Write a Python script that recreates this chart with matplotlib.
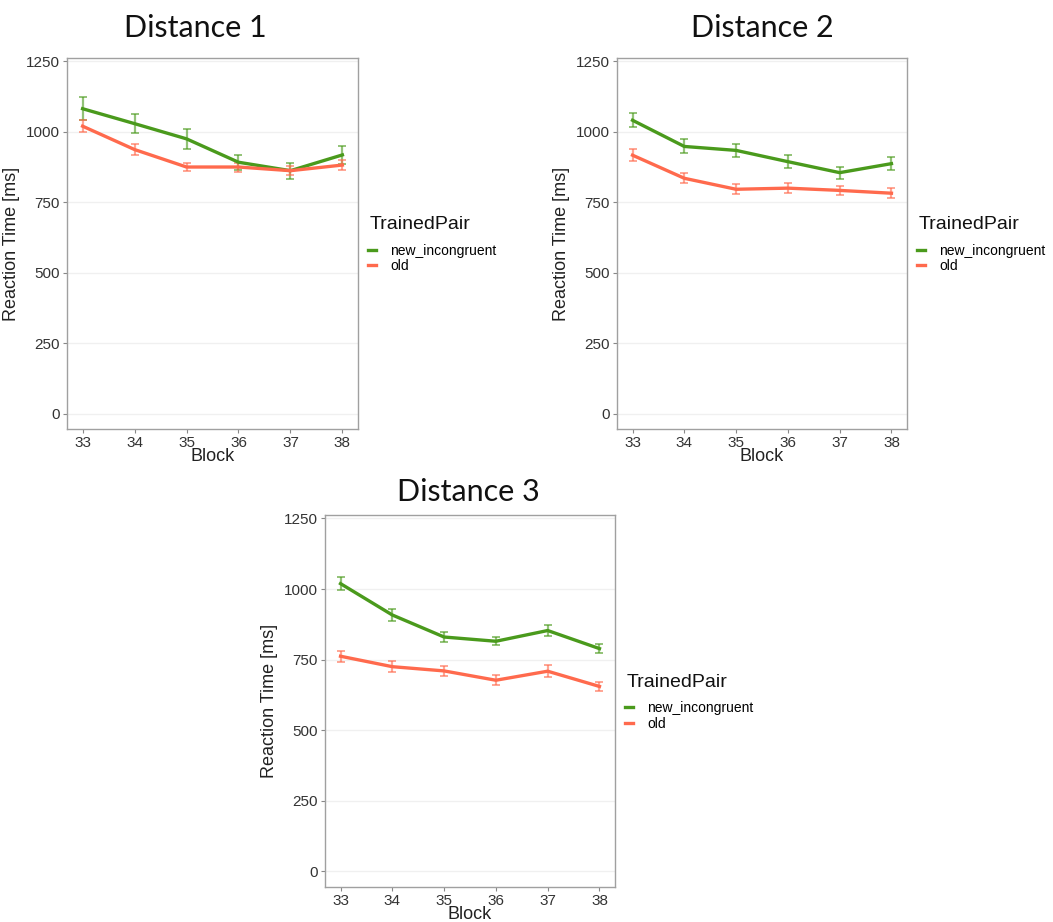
import numpy as np
import matplotlib
matplotlib.use('Agg')
import matplotlib.pyplot as plt

# Blocks and series per distance (mean RT, error half-width)
blocks = [33, 34, 35, 36, 37, 38]
series_names = ['new_incongruent', 'old']

d1_new = [1082, 1029, 975, 892, 862, 918]
d1_new_err = [40, 33, 36, 26, 28, 31]
d1_old = [1020, 937, 875, 875, 862, 882]
d1_old_err = [21, 18, 15, 16, 15, 17]

d2_new = [1041, 948, 934, 894, 855, 887]
d2_new_err = [24, 25, 24, 24, 21, 24]
d2_old = [917, 835, 796, 800, 792, 782]
d2_old_err = [21, 18, 18, 17, 17, 18]

d3_new = [1019, 908, 830, 815, 853, 789]
d3_new_err = [24, 21, 19, 14, 19, 17]
d3_old = [762, 725, 710, 677, 709, 655]
d3_old_err = [19, 19, 19, 18, 21, 17]

titles = ['Distance 1', 'Distance 2', 'Distance 3']
y_ticks = [0, 250, 500, 750, 1000, 1250]

green = '#4a9a1c'
red = '#ff6a4d'

plt.rcParams['font.family'] = ['Liberation Sans', 'DejaVu Sans']

W, H = 1053, 922
fig = plt.figure(figsize=(W / 100, H / 100), dpi=100)

# axes boxes in pixels: left, top, right, bottom
boxes = [(67, 58, 358, 429), (617, 58, 907, 429), (325, 515, 615, 887)]
title_pos = [(195, 28), (762, 28), (468, 492)]
data = [(d1_new, d1_new_err, d1_old, d1_old_err),
        (d2_new, d2_new_err, d2_old, d2_old_err),
        (d3_new, d3_new_err, d3_old, d3_old_err)]

for (l, t, r, b), (tx, ty), title, (yn, en, yo, eo) in zip(boxes, title_pos, titles, data):
    ax = fig.add_axes([l / W, 1 - b / H, (r - l) / W, (b - t) / H])

    for y, e, c, name in [(yn, en, green, series_names[0]), (yo, eo, red, series_names[1])]:
        ax.errorbar(blocks, y, yerr=e, fmt='none', ecolor=c, alpha=0.6,
                    elinewidth=1.6, capsize=3, capthick=1.4, zorder=2)
        ax.plot(blocks, y, color=c, lw=2.4, label=name, zorder=3)

    ax.set_xlim(32.7, 38.3)
    ax.set_ylim(-55, 1262)
    ax.set_xticks(blocks)
    ax.set_yticks(y_ticks)
    ax.grid(axis='y', color='#f0f0f0', lw=1)
    ax.set_axisbelow(True)
    for s in ax.spines.values():
        s.set_color('#a0a0a0')
        s.set_linewidth(1.0)
    ax.tick_params(length=3, color='#888888', labelsize=11, labelcolor='#333333', pad=2)
    ax.set_xlabel('Block', fontsize=13, labelpad=-1.5, color='#222222')
    ax.set_ylabel('Reaction Time [ms]', fontsize=13, labelpad=4, color='#222222')

    # legend: title drawn separately so the gap above the keys matches
    ax.text(1.04, 0.55, 'TrainedPair', transform=ax.transAxes, fontsize=14,
            ha='left', va='center', color='#111111')
    ax.legend(loc='center left', bbox_to_anchor=(1.0, 0.46), frameon=False,
              fontsize=10, handlelength=0.6, handletextpad=1.0,
              labelspacing=0.1, borderaxespad=0.3)

    fig.text(tx / W, 1 - ty / H, title, fontsize=22, family='Lato',
             ha='center', va='center', color='#111111')

fig.savefig('out.png', dpi=100, facecolor='white')
